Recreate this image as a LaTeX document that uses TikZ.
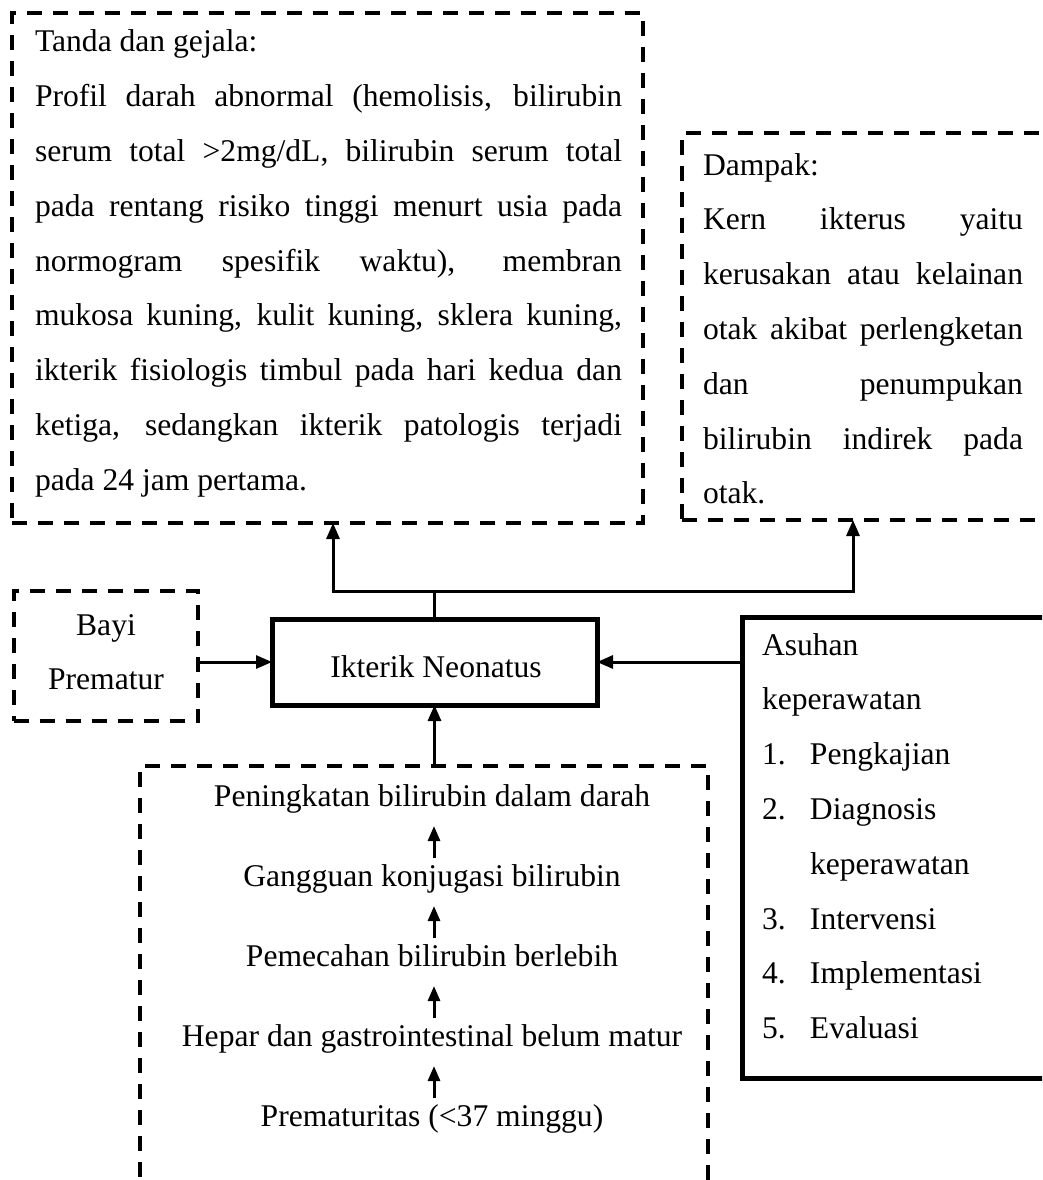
\documentclass[tikz,border=0pt]{standalone}
\usepackage{fontspec}
\setmainfont{Liberation Serif}
\usetikzlibrary{arrows.meta}
\newcommand{\jl}[2]{\makebox[#1][s]{#2}}
\begin{document}
\begin{tikzpicture}[x=1pt,y=-1pt,
  dbox/.style={draw, dash pattern=on 15pt off 11pt, line width=4pt, rectangle, inner sep=0pt, outer sep=0pt},
  sbox/.style={draw, line width=5pt, rectangle, inner sep=0pt, outer sep=0pt},
  txt/.style={inner sep=0pt, outer sep=0pt, font=\fontsize{31.6}{54.8}\selectfont},
  ctxt/.style={txt, text height=22pt, text depth=7pt},
  conn/.style={line width=3pt},
  arr/.style={line width=3pt, -{Triangle[length=16pt,width=13pt]}},
  sarr/.style={line width=3pt, -{Triangle[length=15pt,width=12pt]}}]
\useasboundingbox (0,0) rectangle (1042,1180);
\clip (0,0) rectangle (1042,1180);
\fill[white] (0,0) rectangle (1042,1180);

% boxes
\node[dbox, minimum width=631pt, minimum height=510pt] (signs) at (327.5,268) {};
\node[dbox, minimum width=388pt, minimum height=387pt] (dampak) at (876,326.5) {};
\node[dbox, minimum width=184.5pt, minimum height=130pt] (bayi) at (105.75,656) {};
\node[sbox, minimum width=325pt, minimum height=86pt] (ikterik) at (434.5,662) {};
\node[sbox, minimum width=328pt, minimum height=461pt] (asuhan) at (906,847.5) {};
\node[dbox, minimum width=568pt, minimum height=444pt] (causes) at (424,988) {};

% texts
\node[txt, anchor=base west] (signstxt) at (35,52) {\parbox[t]{587pt}{\raggedright
Tanda dan gejala:\\
\jl{587pt}{Profil darah abnormal (hemolisis, bilirubin}\\
\jl{587pt}{serum total >2mg/dL, bilirubin serum total}\\
\jl{587pt}{pada rentang risiko tinggi menurt usia pada}\\
\jl{587pt}{normogram spesifik waktu), membran}\\
\jl{587pt}{mukosa kuning, kulit kuning, sklera kuning,}\\
\jl{587pt}{ikterik fisiologis timbul pada hari kedua dan}\\
\jl{587pt}{ketiga, sedangkan ikterik patologis terjadi}\\
pada 24 jam pertama.}};

\node[txt, anchor=base west] (dampaktxt) at (703,175) {\parbox[t]{320pt}{\raggedright
Dampak:\\
\jl{320pt}{Kern ikterus yaitu}\\
\jl{320pt}{kerusakan atau kelainan}\\
\jl{320pt}{otak akibat perlengketan}\\
\jl{320pt}{dan penumpukan}\\
\jl{320pt}{bilirubin indirek pada}\\
otak.}};

\node[txt, anchor=base] (bayitxt) at (106,635) {\parbox[t]{180pt}{\centering Bayi\\Prematur}};

\node[txt, anchor=base] (ikteriktxt) at (436,677) {Ikterik Neonatus};

\node[txt, anchor=base west] (asuhantxt) at (762,655) {\parbox[t]{270pt}{\raggedright
Asuhan\\
keperawatan\\
\makebox[48pt][l]{1.}Pengkajian\\
\makebox[48pt][l]{2.}Diagnosis\\
\hspace*{48pt}keperawatan\\
\makebox[48pt][l]{3.}Intervensi\\
\makebox[48pt][l]{4.}Implementasi\\
\makebox[48pt][l]{5.}Evaluasi}};

\node[ctxt, anchor=base] (c1) at (432,806) {Peningkatan bilirubin dalam darah};
\node[ctxt, anchor=base] (c2) at (432,886) {Gangguan konjugasi bilirubin};
\node[ctxt, anchor=base] (c3) at (432,966) {Pemecahan bilirubin berlebih};
\node[ctxt, anchor=base] (c4) at (432,1046) {Hepar dan gastrointestinal belum matur};
\node[ctxt, anchor=base] (c5) at (432,1126) {Prematuritas (<37 minggu)};

% chain arrows
\draw[sarr] ([xshift=2pt,yshift=6pt]c2.north) -- ([xshift=2pt,yshift=-13pt]c1.south);
\draw[sarr] ([xshift=2pt,yshift=6pt]c3.north) -- ([xshift=2pt,yshift=-13pt]c2.south);
\draw[sarr] ([xshift=2pt,yshift=6pt]c4.north) -- ([xshift=2pt,yshift=-13pt]c3.south);
\draw[sarr] ([xshift=2pt,yshift=6pt]c5.north) -- ([xshift=2pt,yshift=-13pt]c4.south);

% main connectors
\coordinate (jl) at (333,591);
\coordinate (jr) at (853,591);
\coordinate (jm) at (ikterik.north |- jl);
\draw[conn] (ikterik.north) -- (jm);
\draw[arr] (jm) -- (jl) -- (jl |- signs.south);
\draw[arr] (jm) -- (jr) -- (jr |- dampak.south);
\draw[arr] (bayi.east |- ikterik.west) -- (ikterik.west);
\draw[arr] (asuhan.west |- ikterik.east) -- (ikterik.east);
\draw[arr] (ikterik.south |- causes.north) -- (ikterik.south);
\end{tikzpicture}
\end{document}
